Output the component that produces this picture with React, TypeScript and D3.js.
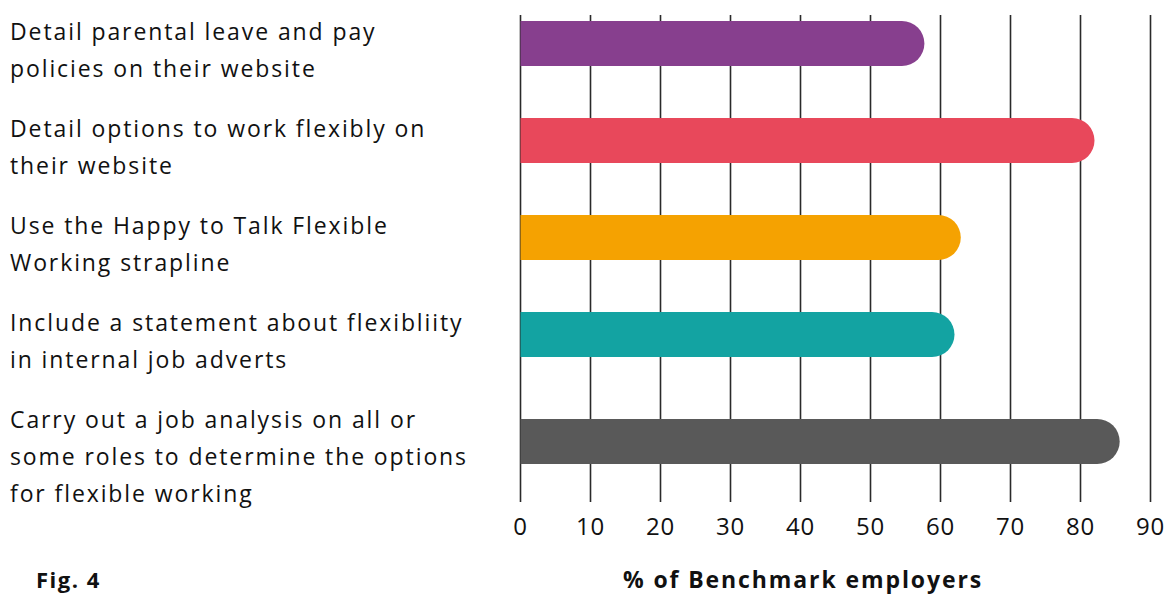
import React from "react";
import * as d3 from "d3";

const categories: string[] = [
  "Detail parental leave and pay\npolicies on their website",
  "Detail options to work flexibly on\ntheir website",
  "Use the Happy to Talk Flexible\nWorking strapline",
  "Include a statement about flexibliity\nin internal job adverts",
  "Carry out a job analysis on all or\nsome roles to determine the options\nfor flexible working",
];
const values: number[] = [57.7, 82, 62.9, 62, 85.6];
const colors: string[] = ["#873F8E", "#E8485B", "#F5A201", "#13A3A2", "#595959"];
const ticks: number[] = [0, 10, 20, 30, 40, 50, 60, 70, 80, 90];
const xTitle = "% of Benchmark employers";
const figLabel = "Fig. 4";

const W = 1170;
const H = 594;
const FONT = "'Open Sans', sans-serif";

export default function App() {
  const x = d3.scaleLinear().domain([0, 90]).range([520.5, 1150.5]);
  const yLabel = d3
    .scalePoint<number>()
    .domain(categories.map((_, i) => i))
    .range([39.5, 427.5]);
  const lineH = 37;
  const barH = 45;
  const r = barH / 2;

  const barCenter = (i: number) => {
    const n = categories[i].split("\n").length;
    return (yLabel(i) as number) + (n - 1) * 10 - 6;
  };

  const barPath = (i: number) => {
    const cy = barCenter(i);
    const y0 = cy - r;
    const x0 = x(0);
    const x1 = x(values[i]);
    return `M${x0},${y0}H${x1 - r}A${r},${r} 0 0 1 ${x1 - r},${y0 + barH}H${x0}Z`;
  };

  return (
    <svg
      width={W}
      height={H}
      style={{ position: "absolute", left: 0, top: 0, background: "#fff" }}
    >
      {ticks.map((t) => (
        <line
          key={"g" + t}
          x1={x(t)}
          x2={x(t)}
          y1={15}
          y2={502}
          stroke="#2a2a2a"
          strokeWidth={1.6}
        />
      ))}
      {categories.map((c, i) => (
        <path key={"b" + i} d={barPath(i)} fill={colors[i]} />
      ))}
      {categories.map((c, i) => (
        <text
          key={"l" + i}
          x={10}
          y={yLabel(i) as number}
          fontFamily={FONT}
          fontSize={23}
          letterSpacing={1.9}
          fill="#111"
        >
          {c.split("\n").map((ln, j) => (
            <tspan key={j} x={10} y={(yLabel(i) as number) + j * lineH}>
              {ln}
            </tspan>
          ))}
        </text>
      ))}
      {ticks.map((t) => (
        <text
          key={"t" + t}
          x={x(t)}
          y={535}
          textAnchor="middle"
          fontFamily={FONT}
          fontSize={24}
          letterSpacing={0.8}
          fill="#111"
        >
          {t}
        </text>
      ))}
      <text
        x={803}
        y={588}
        textAnchor="middle"
        fontFamily={FONT}
        fontWeight="bold"
        fontSize={23}
        letterSpacing={1.9}
        fill="#111"
      >
        {xTitle}
      </text>
      <text
        x={36}
        y={588}
        fontFamily={FONT}
        fontWeight="bold"
        fontSize={22}
        letterSpacing={1.5}
        fill="#111"
      >
        {figLabel}
      </text>
    </svg>
  );
}
